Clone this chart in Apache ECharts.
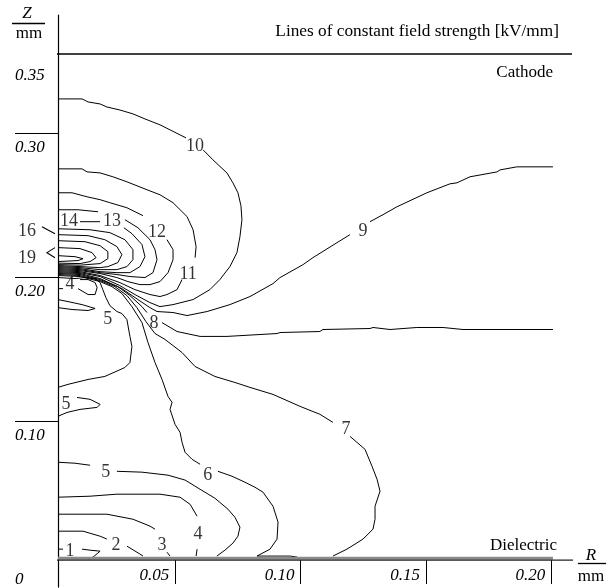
<!DOCTYPE html>
<html><head><meta charset="utf-8">
<script src="https://cdn.jsdelivr.net/npm/echarts@6/dist/echarts.min.js"></script>
<style>html,body{margin:0;padding:0;background:#fff}#c{width:606px;height:588px}</style>
</head><body><div id="c"></div>
<script>
// axis ticks / labels (mm)
const rTicks = [0.05, 0.10, 0.15, 0.20];
const zTicks = [0.10, 0.20, 0.30];
const zLabels = [0, 0.10, 0.20, 0.30, 0.35];

// electrode boundaries (mm)
const cathodeLine = [[-0.0172, 0.355], [0.2083, 0.355]];
const dielectricLine = [[-0.0124, 0.0034], [0.2087, 0.0034]];
const dielectricLayer = [[0.0032, 0.0047], [0.2007, 0.0047]];

// contour lines of constant field strength, [R, Z] in mm, split into segments
const c1 = [
  [[0.0032,0.0110],[0.0052,0.0110]],
  [[0.0128,0.0110],[0.0160,0.0103],[0.0200,0.0096],[0.0172,0.0055],[0.0152,0.0041]]
];
const c2 = [
  [[0.0032,0.0235],[0.0132,0.0235],[0.0200,0.0200],[0.0227,0.0180]],
  [[0.0307,0.0131],[0.0359,0.0076],[0.0371,0.0062]]
];
const c3 = [
  [[0.0032,0.0353],[0.0227,0.0353],[0.0331,0.0318],[0.0399,0.0270],[0.0419,0.0249]],
  [[0.0467,0.0089],[0.0479,0.0062]]
];
const c4 = [
  [[0.0032,0.0471],[0.0160,0.0478],[0.0267,0.0492],[0.0439,0.0492],[0.0519,0.0471],[0.0559,0.0422],[0.0587,0.0339]],
  [[0.0587,0.0110],[0.0583,0.0062]],
  [[0.0032,0.1920],[0.0052,0.1920]],
  [[0.0112,0.1920],[0.0152,0.1879],[0.0180,0.1879],[0.0188,0.1927],[0.0180,0.1962],[0.0152,0.1983],[0.0120,0.1983]],
  [[0.0032,0.1844],[0.0072,0.1830],[0.0128,0.1809],[0.0180,0.1782],[0.0152,0.1768],[0.0088,0.1775],[0.0032,0.1788]]
];
const c5 = [
  [[0.0032,0.1997],[0.0100,0.1990],[0.0140,0.1997],[0.0180,0.1990],[0.0200,0.1962],[0.0211,0.1913],[0.0223,0.1858],[0.0239,0.1802],[0.0267,0.1761],[0.0287,0.1747],[0.0307,0.1705],[0.0319,0.1588],[0.0327,0.1518],[0.0319,0.1407],[0.0299,0.1372],[0.0219,0.1310],[0.0152,0.1289],[0.0072,0.1255],[0.0032,0.1234]],
  [[0.0108,0.1164],[0.0160,0.1151],[0.0200,0.1116],[0.0188,0.1095],[0.0120,0.1081],[0.0068,0.1060],[0.0032,0.1033]],
  [[0.0032,0.0714],[0.0100,0.0707],[0.0160,0.0693]],
  [[0.0267,0.0651],[0.0367,0.0645],[0.0471,0.0624],[0.0539,0.0590],[0.0599,0.0526],[0.0658,0.0464],[0.0710,0.0388],[0.0738,0.0332],[0.0758,0.0263],[0.0750,0.0200],[0.0730,0.0152],[0.0698,0.0103],[0.0666,0.0062]]
];
const c6 = [
  [[0.0032,0.2011],[0.0120,0.2004],[0.0200,0.1969],[0.0247,0.1934],[0.0287,0.1886],[0.0327,0.1795],[0.0367,0.1684],[0.0391,0.1546],[0.0419,0.1407],[0.0447,0.1289],[0.0471,0.1171],[0.0487,0.1130],[0.0479,0.1081],[0.0499,0.0977],[0.0519,0.0922],[0.0527,0.0852],[0.0539,0.0783],[0.0567,0.0734],[0.0599,0.0700]],
  [[0.0670,0.0651],[0.0726,0.0617],[0.0778,0.0575],[0.0818,0.0540],[0.0850,0.0506],[0.0890,0.0408],[0.0910,0.0298],[0.0906,0.0180],[0.0878,0.0110],[0.0826,0.0062],[0.0958,0.0062],[0.0986,0.0055]]
];
const c7 = [
  [[0.0032,0.2018],[0.0120,0.2011],[0.0200,0.1976],[0.0259,0.1934],[0.0307,0.1872],[0.0347,0.1788],[0.0383,0.1691],[0.0419,0.1608],[0.0459,0.1567],[0.0527,0.1476],[0.0579,0.1379],[0.0658,0.1310],[0.0738,0.1268],[0.0798,0.1234],[0.0890,0.1185],[0.0998,0.1102],[0.1077,0.1047],[0.1129,0.0991]],
  [[0.1197,0.0894],[0.1257,0.0804],[0.1285,0.0686],[0.1305,0.0596],[0.1317,0.0513],[0.1297,0.0408],[0.1297,0.0318],[0.1289,0.0249],[0.1249,0.0180],[0.1185,0.0110],[0.1129,0.0062]]
];
const c8 = [
  [[0.0032,0.2025],[0.0120,0.2018],[0.0200,0.1983],[0.0271,0.1934],[0.0319,0.1872],[0.0367,0.1795],[0.0387,0.1754]],
  [[0.0447,0.1684],[0.0507,0.1622],[0.0599,0.1588],[0.0706,0.1588],[0.0906,0.1608],[0.0918,0.1615],[0.1077,0.1622],[0.1089,0.1636],[0.1277,0.1643],[0.1289,0.1650],[0.1357,0.1636],[0.1464,0.1650],[0.1568,0.1650],[0.1648,0.1636],[0.1728,0.1636],[0.2007,0.1636]]
];
const c9 = [
  [[0.0032,0.2031],[0.0120,0.2025],[0.0200,0.1990],[0.0287,0.1920],[0.0351,0.1844],[0.0399,0.1788],[0.0427,0.1761],[0.0491,0.1754],[0.0547,0.1733],[0.0627,0.1761],[0.0718,0.1809],[0.0798,0.1865],[0.0890,0.1955],[0.0918,0.1997],[0.1010,0.2087],[0.1049,0.2135],[0.1145,0.2239],[0.1197,0.2295]],
  [[0.1277,0.2385],[0.1329,0.2434],[0.1385,0.2489],[0.1504,0.2586],[0.1596,0.2648],[0.1624,0.2655],[0.1676,0.2697],[0.1784,0.2731],[0.1796,0.2745],[0.1863,0.2766],[0.2007,0.2766]]
];
const c10 = [
  [[0.0032,0.3238],[0.0128,0.3238],[0.0152,0.3217],[0.0200,0.3203],[0.0227,0.3182],[0.0279,0.3161],[0.0331,0.3134],[0.0379,0.3099],[0.0439,0.3058],[0.0479,0.3023],[0.0519,0.2988],[0.0543,0.2967]],
  [[0.0611,0.2884],[0.0650,0.2815],[0.0706,0.2724],[0.0730,0.2655],[0.0750,0.2586],[0.0762,0.2496],[0.0766,0.2399],[0.0758,0.2281],[0.0746,0.2170],[0.0718,0.2073],[0.0678,0.1983],[0.0638,0.1913],[0.0571,0.1844],[0.0491,0.1809],[0.0439,0.1795],[0.0399,0.1823],[0.0339,0.1879],[0.0279,0.1941],[0.0200,0.2004],[0.0120,0.2031],[0.0032,0.2038]]
];
const c11 = [
  [[0.0032,0.2752],[0.0128,0.2752],[0.0148,0.2731],[0.0200,0.2724],[0.0251,0.2697],[0.0307,0.2662],[0.0387,0.2607],[0.0439,0.2572],[0.0491,0.2517],[0.0547,0.2420],[0.0571,0.2329],[0.0583,0.2212],[0.0579,0.2135]],
  [[0.0527,0.1983],[0.0507,0.1913],[0.0467,0.1879],[0.0439,0.1865],[0.0399,0.1879],[0.0339,0.1913],[0.0279,0.1962],[0.0200,0.2011],[0.0120,0.2038],[0.0032,0.2045]]
];
const c12 = [
  [[0.0032,0.2586],[0.0088,0.2586],[0.0148,0.2558],[0.0200,0.2538],[0.0239,0.2517],[0.0307,0.2482],[0.0371,0.2427]],
  [[0.0467,0.2260],[0.0491,0.2191],[0.0491,0.2121],[0.0471,0.2031],[0.0439,0.1969],[0.0399,0.1948],[0.0359,0.1948],[0.0311,0.1969],[0.0267,0.1997],[0.0200,0.2025],[0.0120,0.2045],[0.0032,0.2052]]
];
const c13 = [
  [[0.0032,0.2468],[0.0112,0.2468],[0.0192,0.2454]],
  [[0.0299,0.2399],[0.0351,0.2343],[0.0399,0.2260],[0.0419,0.2191],[0.0427,0.2121],[0.0411,0.2031],[0.0379,0.1997],[0.0319,0.2004],[0.0267,0.2018],[0.0200,0.2031],[0.0120,0.2052],[0.0032,0.2059]]
];
const c14 = [
  [[0.0120,0.2385],[0.0200,0.2385]],
  [[0.0295,0.2343],[0.0327,0.2302],[0.0367,0.2226],[0.0379,0.2142],[0.0359,0.2073],[0.0319,0.2031],[0.0267,0.2031],[0.0200,0.2038],[0.0120,0.2059],[0.0032,0.2066]]
];
const c15 = [
  [[0.0032,0.2336],[0.0160,0.2329],[0.0239,0.2309],[0.0299,0.2260],[0.0331,0.2191],[0.0331,0.2121],[0.0307,0.2073],[0.0267,0.2052],[0.0200,0.2052],[0.0120,0.2066],[0.0032,0.2073]]
];
const c16 = [
  [[0.0032,0.2295],[0.0152,0.2288],[0.0219,0.2260],[0.0267,0.2212],[0.0287,0.2156],[0.0271,0.2101],[0.0231,0.2073],[0.0200,0.2066],[0.0120,0.2073],[0.0032,0.2080]]
];
const c17 = [
  [[0.0032,0.2253],[0.0140,0.2246],[0.0200,0.2218],[0.0231,0.2177],[0.0231,0.2128],[0.0200,0.2094],[0.0120,0.2083],[0.0032,0.2087]]
];
const c18 = [
  [[0.0032,0.2205],[0.0120,0.2198],[0.0168,0.2170],[0.0184,0.2135],[0.0160,0.2108],[0.0120,0.2094],[0.0032,0.2097]]
];
const c19 = [
  [[0.0032,0.2149],[0.0100,0.2142],[0.0132,0.2128],[0.0112,0.2115],[0.0032,0.2108]]
];
// leader lines for the labels placed outside the axis
const leaders = [
  [[-0.0032,0.2350],[0.0020,0.2302]],
  [[0.0020,0.2205],[-0.0012,0.2170],[0.0020,0.2135]]
];
// contour labels: [text, R, Z]
const contourLabels = [
  ['1',0.0080,0.0096],['2',0.0263,0.0138],['3',0.0447,0.0138],['4',0.0591,0.0214],
  ['4',0.0080,0.1948],['5',0.0231,0.1705],['5',0.0064,0.1116],['5',0.0223,0.0645],
  ['6',0.0630,0.0624],['7',0.1181,0.0942],['8',0.0415,0.1678],['9',0.1249,0.2316],
  ['10',0.0579,0.2912],['11',0.0551,0.2018],['12',0.0427,0.2309],['13',0.0247,0.2385],
  ['14',0.0076,0.2385],['16',-0.0092,0.2316],['19',-0.0092,0.2128]
];

const contours = [c1,c2,c3,c4,c5,c6,c7,c8,c9,c10,c11,c12,c13,c14,c15,c16,c17,c18,c19];
const FONT = 'Liberation Serif';

const series = [];
function addLine(data, color, width) {
  series.push({type:'line', data:data, symbol:'none', showSymbol:false, clip:false, silent:true,
    animation:false, lineStyle:{color:color, width:width}, z:3});
}
contours.forEach(c => c.forEach(seg => addLine(seg, '#000', 1)));
addLine(cathodeLine, '#000', 1.3);
addLine(dielectricLayer, '#8a8a8a', 3);
addLine(dielectricLine, '#222', 1.3);
// leaders drawn through the axes' scales with a custom series
series.push({type:'custom', coordinateSystem:'cartesian2d', clip:false, silent:true, animation:false, z:6,
  data: leaders.map(s => s[0]),
  renderItem: function (params, api) {
    const pts = leaders[params.dataIndex].map(p => api.coord(p));
    return {type:'polyline', shape:{points:pts}, style:{stroke:'#000', lineWidth:1.1, fill:null}};
  }});
series.push({type:'scatter', symbolSize:1, silent:true, animation:false, clip:false,
  itemStyle:{color:'rgba(0,0,0,0)'}, z:5,
  data: contourLabels.map(d => ({name:d[0], value:[d[1], d[2]]})),
  label:{show:true, position:'inside', formatter:'{b}', fontFamily:FONT, fontSize:18, color:'#000'}});

const chart = echarts.init(document.getElementById('c'), null, {renderer:'canvas'});
chart.setOption({
  backgroundColor:'#fff',
  animation:false,
  grid:{left:58, right:33, top:15, bottom:0, containLabel:false},
  xAxis:{type:'value', min:0.0032, max:0.2087, position:'bottom', offset:-27,
    axisLine:{show:false, onZero:false},
    splitLine:{show:false},
    axisTick:{show:true, customValues:rTicks, length:24, lineStyle:{color:'#000', width:1}},
    axisLabel:{show:true, customValues:rTicks, formatter:v=>v.toFixed(2), fontFamily:FONT, fontStyle:'italic',
      fontSize:17, color:'#000', align:'right', padding:[0,6,0,0], margin:7}},
  yAxis:{type:'value', min:-0.01533, max:0.3821,
    axisLine:{show:true, onZero:false, lineStyle:{color:'#000', width:1.2}},
    splitLine:{show:false},
    axisTick:{show:true, customValues:zTicks, length:43, lineStyle:{color:'#000', width:1}},
    axisLabel:{show:true, customValues:zLabels, formatter:v=>(v===0?'0':v.toFixed(2)), fontFamily:FONT,
      fontStyle:'italic', fontSize:17, color:'#000', align:'left', verticalAlign:'top', padding:[6,0,0,0], margin:43}},
  graphic:[
    {type:'text', x:559, y:31, style:{text:'Lines of constant field strength [kV/mm]', font:'17.3px "Liberation Serif"', fill:'#000', align:'right', verticalAlign:'middle'}},
    {type:'text', x:553, y:73, style:{text:'Cathode', font:'17px "Liberation Serif"', fill:'#000', align:'right', verticalAlign:'middle'}},
    {type:'text', x:557, y:546, style:{text:'Dielectric', font:'17px "Liberation Serif"', fill:'#000', align:'right', verticalAlign:'middle'}},
    {type:'text', x:27, y:14, style:{text:'Z', font:'italic 17px "Liberation Serif"', fill:'#000', align:'center', verticalAlign:'middle'}},
    {type:'line', shape:{x1:12, y1:23.5, x2:45, y2:23.5}, style:{stroke:'#000', lineWidth:1.3}},
    {type:'text', x:29, y:34, style:{text:'mm', font:'17px "Liberation Serif"', fill:'#000', align:'center', verticalAlign:'middle'}},
    {type:'text', x:591, y:556, style:{text:'R', font:'italic 17px "Liberation Serif"', fill:'#000', align:'center', verticalAlign:'middle'}},
    {type:'line', shape:{x1:578, y1:563.5, x2:606, y2:563.5}, style:{stroke:'#000', lineWidth:1.3}},
    {type:'text', x:591, y:577, style:{text:'mm', font:'17px "Liberation Serif"', fill:'#000', align:'center', verticalAlign:'middle'}}
  ],
  series: series
});
</script></body></html>
